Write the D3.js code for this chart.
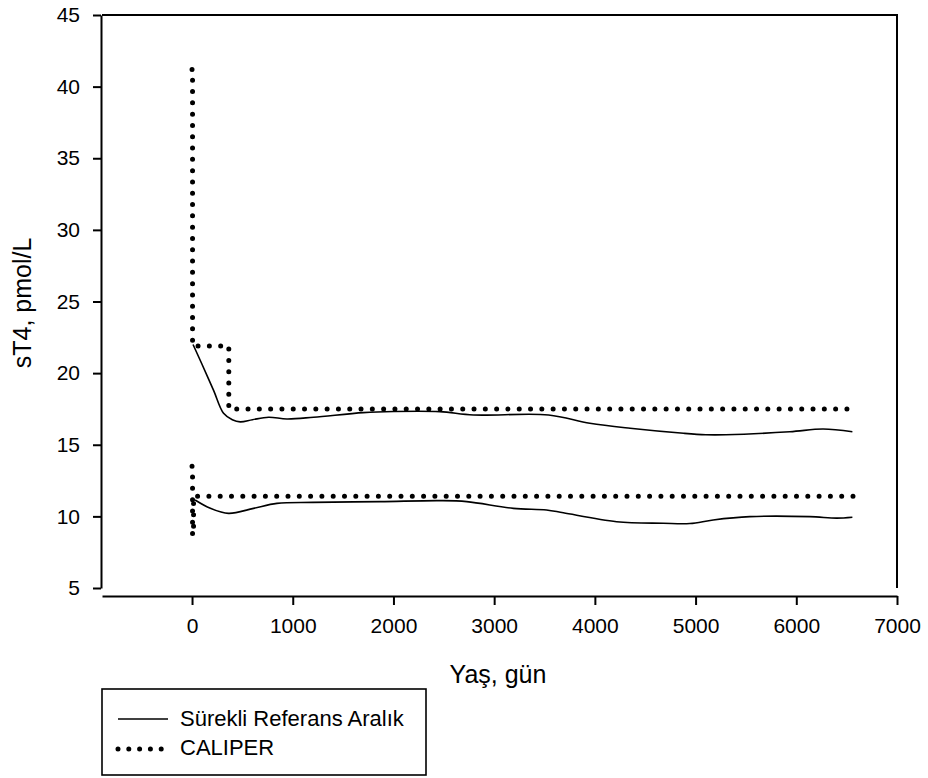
<!DOCTYPE html>
<html>
<head>
<meta charset="utf-8">
<script src="https://cdn.jsdelivr.net/npm/d3@7"></script>
<style type="text/css">
	body { margin: 0; background: #fff; }
	text { font-family: "Liberation Sans", Arial, sans-serif; fill: #000; }
</style>
</head>
<body>
<script>

	// continuous reference interval, upper and lower limits (day, pmol/L)
	var upperLimit = [[10,22.0],[100,20.6],[214,18.8],[313,17.2],[400,16.75],[479,16.6],[600,16.75],[760,16.92],[942,16.8],
		[1207,16.92],[1700,17.24],[2000,17.32],[2460,17.31],[2794,17.08],[3540,17.08],[3950,16.5],[4350,16.15],
		[4880,15.8],[5100,15.7],[5300,15.7],[5935,15.91],[6266,16.1],[6557,15.91]];
	var lowerLimit = [[30,11.14],[182,10.56],[363,10.21],[611,10.56],[843,10.91],[1200,10.98],[1868,11.03],[2460,11.1],
		[2728,11.03],[3190,10.56],[3520,10.45],[3687,10.25],[4216,9.63],[4679,9.52],[4944,9.5],[5175,9.75],
		[5539,9.98],[6134,9.98],[6400,9.88],[6557,9.94]];

	// CALIPER step intervals
	var caliperUpper = [[0,41.2],[5,41.2],[5,21.9],[365,21.9],[365,17.5],[6570,17.5]];
	var caliperLower = [[0,13.5],[5,13.5],[5,8.7],[15,8.7],[15,11.4],[6570,11.4]];

	var xTicks = [0,1000,2000,3000,4000,5000,6000,7000];
	var yTicks = [5,10,15,20,25,30,35,40,45];

	var svg = d3.select("body").append("svg")
		.attr("width", 928)
		.attr("height", 778);

	var x = d3.scaleLinear().domain([-894, 7000]).range([102, 897]);
	var y = d3.scaleLinear().domain([5, 45]).range([588, 15]);

	// frame top and right
	svg.append("path")
		.attr("d", "M" + x.range()[0] + "," + y(45) + "H" + x(7000) + "V" + y(5))
		.attr("fill", "none").attr("stroke", "#000").attr("stroke-width", 2);

	svg.append("g")
		.attr("transform", "translate(101,0)")
		.call(d3.axisLeft(y).tickValues(yTicks).tickFormat(d3.format("d")).tickSize(8).tickSizeOuter(0).tickPadding(13));

	svg.append("g")
		.attr("transform", "translate(0,596)")
		.call(d3.axisBottom(x).tickValues(xTicks).tickFormat(d3.format("d")).tickSize(9).tickSizeOuter(0).tickPadding(13));

	svg.selectAll(".tick text")
		.style("font-size", "21px")
		.style("font-family", "'Liberation Sans', Arial, sans-serif");
	svg.selectAll(".domain, .tick line").attr("stroke", "#000").attr("stroke-width", 2);

	svg.append("text")
		.attr("x", 498).attr("y", 683)
		.attr("text-anchor", "middle")
		.style("font-size", "25px")
		.text("Yaş, gün");

	svg.append("text")
		.attr("transform", "translate(31,303) rotate(-90)")
		.attr("text-anchor", "middle")
		.style("font-size", "25px")
		.text("sT4, pmol/L");

	var line = d3.line()
		.x(function (d) { return x(d[0]); })
		.y(function (d) { return y(d[1]); });

	var smooth = d3.line()
		.x(function (d) { return x(d[0]); })
		.y(function (d) { return y(d[1]); })
		.curve(d3.curveCatmullRom.alpha(0.5));

	svg.selectAll(".ref")
		.data([upperLimit, lowerLimit])
		.enter().append("path")
		.attr("class", "ref")
		.attr("d", smooth)
		.attr("fill", "none")
		.attr("stroke", "#000")
		.attr("stroke-width", 1.6);

	svg.selectAll(".cal")
		.data([caliperUpper, caliperLower])
		.enter().append("path")
		.attr("class", "cal")
		.attr("d", line)
		.attr("fill", "none")
		.attr("stroke", "#000")
		.attr("stroke-width", 5)
		.attr("stroke-linecap", "round")
		.attr("stroke-dasharray", "0 11.3");

	// legend
	var legend = svg.append("g");
	legend.append("rect")
		.attr("x", 102).attr("y", 689)
		.attr("width", 324).attr("height", 86)
		.attr("fill", "#fff").attr("stroke", "#000").attr("stroke-width", 1.6);

	legend.append("line")
		.attr("x1", 118).attr("x2", 168).attr("y1", 719).attr("y2", 719)
		.attr("stroke", "#000").attr("stroke-width", 1.6);
	legend.append("line")
		.attr("x1", 118).attr("x2", 162).attr("y1", 749).attr("y2", 749)
		.attr("stroke", "#000").attr("stroke-width", 5)
		.attr("stroke-linecap", "round").attr("stroke-dasharray", "0 10.8");

	legend.append("text").attr("x", 180).attr("y", 726).style("font-size", "22px").text("Sürekli Referans Aralık");
	legend.append("text").attr("x", 180).attr("y", 755).style("font-size", "22px").text("CALIPER");

</script>
</body>
</html>
